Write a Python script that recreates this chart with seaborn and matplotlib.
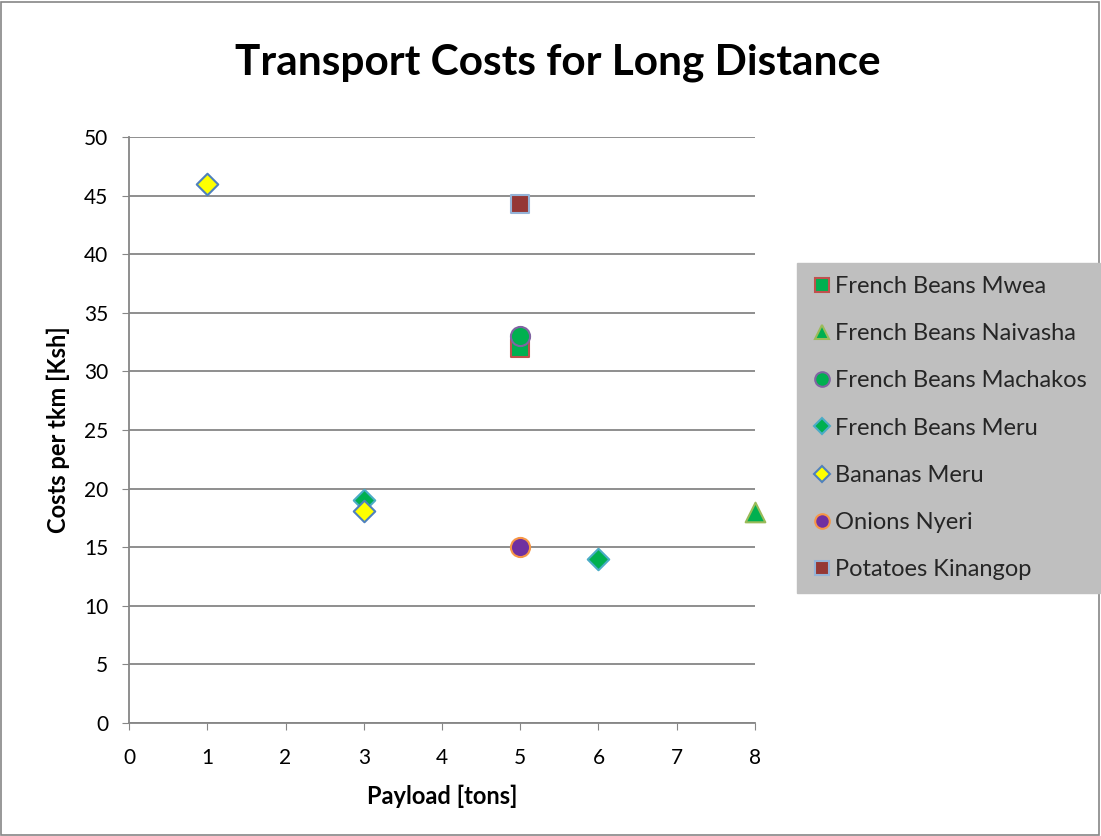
import matplotlib
matplotlib.use("Agg")
import matplotlib.pyplot as plt
import seaborn as sns
import pandas as pd
from matplotlib.patches import Rectangle

series_names = ["French Beans Mwea", "French Beans Naivasha", "French Beans Machakos",
                "French Beans Meru", "Bananas Meru", "Onions Nyeri", "Potatoes Kinangop"]
payload = [[5], [8], [5], [3, 6], [1, 3], [5], [5]]
cost = [[32], [18], [33], [19, 14], [46, 18.1], [15], [44.3]]
markers = ["s", "^", "o", "D", "D", "o", "s"]
face_colors = ["#00B050", "#00B050", "#00B050", "#00B050", "#FFFF00", "#7030A0", "#953735"]
edge_colors = ["#C0504D", "#9BBB59", "#8064A2", "#4BACC6", "#4F81BD", "#F79646", "#95B3D7"]
sizes = [160, 200, 190, 120, 120, 190, 160]

x_ticks = [0, 1, 2, 3, 4, 5, 6, 7, 8]
y_ticks = [0, 5, 10, 15, 20, 25, 30, 35, 40, 45, 50]

sns.set_style("white")
plt.rcParams["font.family"] = ["Lato", "DejaVu Sans"]

rows = []
for name, xs, ys in zip(series_names, payload, cost):
    for xv, yv in zip(xs, ys):
        rows.append({"series": name, "payload": xv, "cost": yv})
df = pd.DataFrame(rows)

fig = plt.figure(figsize=(11.01, 8.36), dpi=100)
ax = fig.add_axes([0.1172, 0.1352, 0.6857 - 0.1172, 0.8361 - 0.1352])

handles = []
for i, name in enumerate(series_names):
    sub = df[df["series"] == name]
    sns.scatterplot(data=sub, x="payload", y="cost", ax=ax, marker=markers[i],
                    s=sizes[i], color=face_colors[i], edgecolor=edge_colors[i],
                    linewidth=1.5, zorder=3 + i, legend=False)
    h = plt.Line2D([], [], linestyle="none", marker=markers[i],
                   markersize=10.5 if markers[i] != "D" else 8.5,
                   markerfacecolor=face_colors[i], markeredgecolor=edge_colors[i],
                   markeredgewidth=1.5)
    handles.append(h)

ax.set_xlim(0, 8)
ax.set_ylim(0, 50)
ax.set_xticks(x_ticks)
ax.set_yticks(y_ticks)
ax.tick_params(axis="both", labelsize=15, length=5, direction="out", color="#868686",
               left=True, bottom=True, labelcolor="black")
ax.tick_params(axis="y", pad=10)
ax.tick_params(axis="x", pad=13)
ax.yaxis.grid(True, color="#868686", linewidth=1.3)
ax.xaxis.grid(False)
ax.set_axisbelow(True)
for s in ["top", "right"]:
    ax.spines[s].set_visible(False)
for s in ["left", "bottom"]:
    ax.spines[s].set_color("#868686")
    ax.spines[s].set_linewidth(1.3)
for c in ax.collections:
    c.set_clip_on(False)

ax.set_xlabel("Payload [tons]", fontsize=17, fontweight="bold", labelpad=12, color="black")
ax.set_ylabel("Costs per tkm [Ksh]", fontsize=17, fontweight="bold", labelpad=10, color="black")
fig.text(0.507, 0.925, "Transport Costs for Long Distance", fontsize=30.5, fontweight="bold",
         ha="center", va="center", color="black")

leg = fig.legend(handles=handles, labels=series_names, loc="upper left",
                 bbox_to_anchor=(797 / 1101, 1 - 263 / 836), frameon=True, fontsize=17,
                 handletextpad=0.05, labelspacing=1.11, borderpad=0.55, handlelength=1.0,
                 borderaxespad=0)
leg.get_frame().set_facecolor("#BFBFBF")
leg.get_frame().set_edgecolor("#BFBFBF")
leg.get_frame().set_boxstyle("square", pad=0)
leg.get_frame().set_alpha(1)

fig.patches.append(Rectangle((0.001, 0.001), 0.997, 0.997, transform=fig.transFigure,
                             fill=False, edgecolor="#868686", linewidth=1.2))

fig.savefig("out.png", dpi=100)
